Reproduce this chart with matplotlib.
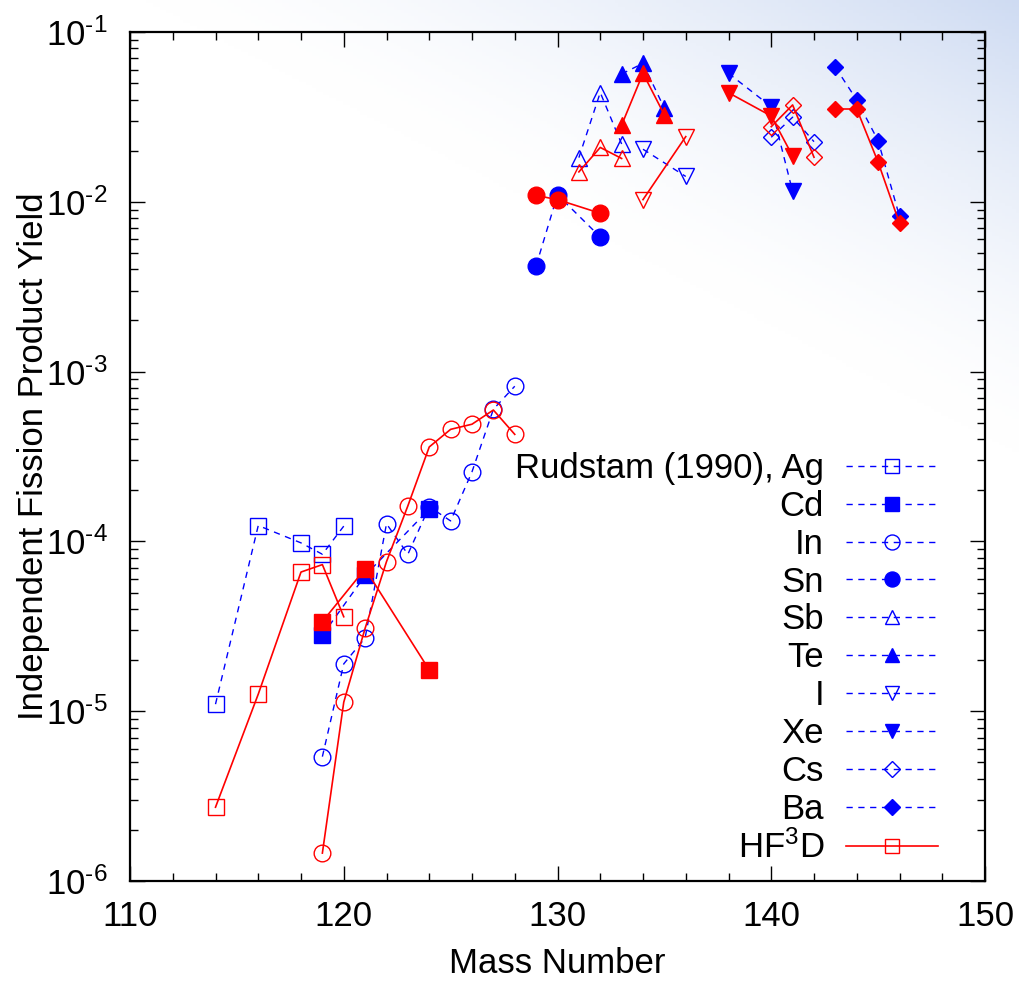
import matplotlib
matplotlib.use("Agg")
import matplotlib.pyplot as plt
from matplotlib.ticker import MultipleLocator, LogLocator, NullFormatter
import numpy as np

plt.rcParams['font.family'] = ['Liberation Sans', 'DejaVu Sans']
plt.rcParams['mathtext.fontset'] = 'custom'
plt.rcParams['mathtext.rm'] = 'Liberation Sans'
plt.rcParams['mathtext.default'] = 'regular'

# Rudstam (1990) measured independent yields, per element
ag_a = [114, 116, 118, 119, 120]
ag_y = [1.1e-5, 1.24e-4, 9.8e-5, 8.4e-5, 1.23e-4]
cd_a = [119, 121, 124]
cd_y = [2.8e-5, 6.3e-5, 1.55e-4]
in_a = [119, 120, 121, 122, 123, 124, 125, 126, 127, 128]
in_y = [5.4e-6, 1.9e-5, 2.7e-5, 1.27e-4, 8.4e-5, 1.6e-4, 1.32e-4, 2.57e-4, 6.0e-4, 8.2e-4]
sn_a = [129, 130, 132]
sn_y = [4.2e-3, 1.10e-2, 6.2e-3]
sb_a = [131, 132, 133]
sb_y = [1.82e-2, 4.4e-2, 2.19e-2]
te_a = [133, 134, 135]
te_y = [5.66e-2, 6.54e-2, 3.55e-2]
i_a = [134, 136]
i_y = [2.04e-2, 1.41e-2]
xe_a = [138, 140, 141]
xe_y = [5.71e-2, 3.63e-2, 1.15e-2]
cs_a = [140, 141, 142]
cs_y = [2.40e-2, 3.15e-2, 2.26e-2]
ba_a = [143, 144, 145, 146]
ba_y = [6.2e-2, 3.98e-2, 2.29e-2, 8.2e-3]

# HF3D calculation, same elements
hf_ag = [2.72e-6, 1.26e-5, 6.6e-5, 7.3e-5, 3.6e-5]
hf_cd = [3.37e-5, 6.9e-5, 1.75e-5]
hf_in = [1.46e-6, 1.13e-5, 3.08e-5, 7.6e-5, 1.62e-4, 3.6e-4, 4.57e-4, 4.9e-4, 5.94e-4, 4.27e-4]
hf_sn = [1.09e-2, 1.03e-2, 8.56e-3]
hf_sb = [1.50e-2, 2.09e-2, 1.80e-2]
hf_te = [2.83e-2, 5.71e-2, 3.25e-2]
hf_i = [1.03e-2, 2.42e-2]
hf_xe = [4.39e-2, 3.2e-2, 1.86e-2]
hf_cs = [2.77e-2, 3.72e-2, 1.83e-2]
hf_ba = [3.52e-2, 3.52e-2, 1.71e-2, 7.47e-3]

elements = ['Ag', 'Cd', 'In', 'Sn', 'Sb', 'Te', 'I', 'Xe', 'Cs', 'Ba']
masses = [ag_a, cd_a, in_a, sn_a, sb_a, te_a, i_a, xe_a, cs_a, ba_a]
exp_vals = [ag_y, cd_y, in_y, sn_y, sb_y, te_y, i_y, xe_y, cs_y, ba_y]
hf_vals = [hf_ag, hf_cd, hf_in, hf_sn, hf_sb, hf_te, hf_i, hf_xe, hf_cs, hf_ba]
markers = ['s', 's', 'o', 'o', '^', '^', 'v', 'v', 'D', 'D']
filled = [False, True, False, True, False, True, False, True, False, True]
msizes = {'s': 11.5, 'o': 12, '^': 11, 'v': 11, 'D': 8.5}

ytick_vals = [1e-6, 1e-5, 1e-4, 1e-3, 1e-2, 1e-1]
ytick_exps = [-6, -5, -4, -3, -2, -1]

W, H = 1019, 982
fs = 25
fig = plt.figure(figsize=(W / 100, H / 100), dpi=100)

# light slide background, bluish towards the top right
bg = fig.add_axes([0, 0, 1, 1], zorder=-10)
u = np.linspace(0, 1, 300)[None, :]
v = np.linspace(1, 0, 300)[:, None]
t = np.clip((0.7 * u + 1.3 * v - 1.4) / 0.6, 0, 1) ** 1.5
top = np.array([0.81, 0.86, 0.95])
img = 1 - t[..., None] * (1 - top)
bg.imshow(img, extent=[0, 1, 0, 1], aspect='auto')
bg.axis('off')

ax = fig.add_axes([130 / W, 1 - 881 / H, 855 / W, 849 / H])
ax.set_facecolor('none')

blue = '#0000ff'
red = '#ff0000'
for k in range(len(elements)):
    m = markers[k]
    ms = msizes[m]
    lab = 'Rudstam (1990), Ag' if k == 0 else elements[k]
    ax.plot(masses[k], exp_vals[k], color=blue, lw=1.0, dashes=(4.5, 4.0),
            marker=m, ms=ms, mew=1.0, mec=blue,
            mfc=blue if filled[k] else 'none', label=lab)
for k in range(len(elements)):
    m = markers[k]
    ms = msizes[m]
    ax.plot(masses[k], hf_vals[k], color=red, lw=1.2, ls='-',
            marker=m, ms=ms, mew=1.0, mec=red,
            mfc=red if filled[k] else 'none',
            label='HF$^3$D' if k == 0 else None)

ax.set_xlim(110, 150)
ax.set_yscale('log')
ax.set_ylim(1e-6, 1e-1)
ax.xaxis.set_major_locator(MultipleLocator(10))
ax.xaxis.set_minor_locator(MultipleLocator(2))
ax.yaxis.set_minor_locator(LogLocator(base=10, subs=np.arange(2, 10), numticks=20))
ax.yaxis.set_minor_formatter(NullFormatter())
ax.set_yticks(ytick_vals)
# hyphen (U+2010) instead of the wide minus sign, like the original
ax.set_yticklabels(['$10^{\u2010%d}$' % (-e) for e in ytick_exps])

ax.tick_params(which='both', direction='in', top=True, right=True, labelsize=fs, width=1.0)
ax.tick_params(which='major', length=11)
ax.tick_params(which='minor', length=5.5)
ax.tick_params(axis='x', pad=14)
ax.tick_params(axis='y', pad=16)
for s in ax.spines.values():
    s.set_linewidth(1.6)

ax.set_xlabel('Mass Number', fontsize=fs, labelpad=10)
ax.set_ylabel('Independent Fission Product Yield', fontsize=fs)
ax.yaxis.set_label_coords((34 - 130) / 855, 0.5)
ax.yaxis.label.set_va('center')

leg = ax.legend(loc='upper right', markerfirst=False, frameon=False, fontsize=fs,
                handlelength=2.65, handletextpad=0.63, labelspacing=0.14,
                borderpad=0, borderaxespad=0, markerscale=0.9,
                bbox_to_anchor=(938 / W, 1 - 452 / H), bbox_transform=fig.transFigure)

fig.savefig('out.png', dpi=100)
